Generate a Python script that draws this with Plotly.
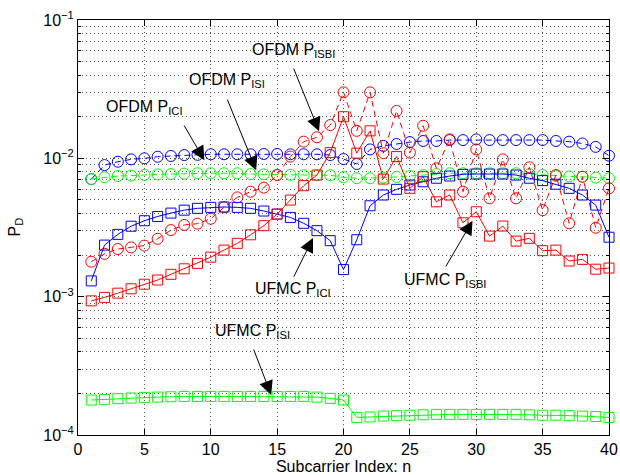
import math
import plotly.graph_objects as go

n = list(range(1, 41))

ofdm_ici = [7.08e-3, 8.94e-3, 9.45e-3, 9.83e-3, 1.00e-2, 1.027e-2, 1.04e-2, 1.056e-2, 1.06e-2, 1.07e-2,
            1.07e-2, 1.07e-2, 1.07e-2, 1.075e-2, 1.075e-2, 1.07e-2, 1.07e-2, 1.07e-2, 1.056e-2, 9.88e-3,
            9.1e-3, 1.16e-2, 1.23e-2, 1.27e-2, 1.31e-2, 1.335e-2, 1.335e-2, 1.355e-2, 1.355e-2, 1.37e-2,
            1.355e-2, 1.355e-2, 1.355e-2, 1.355e-2, 1.355e-2, 1.335e-2, 1.32e-2, 1.28e-2, 1.21e-2, 1.045e-2]
ofdm_isi = [7.08e-3, 7.3e-3, 7.45e-3, 7.5e-3, 7.6e-3, 7.65e-3, 7.7e-3, 7.75e-3, 7.8e-3, 7.8e-3,
            7.8e-3, 7.8e-3, 7.7e-3, 7.66e-3, 7.6e-3, 7.6e-3, 7.55e-3, 7.55e-3, 7.55e-3, 7.3e-3,
            7.18e-3, 7.18e-3, 7.25e-3, 7.35e-3, 7.45e-3, 7.57e-3, 7.7e-3, 7.8e-3, 7.8e-3, 7.8e-3,
            7.8e-3, 7.8e-3, 7.8e-3, 7.7e-3, 7.57e-3, 7.45e-3, 7.4e-3, 7.36e-3, 7.25e-3, 7.18e-3]
ofdm_isbi = [1.79e-3, 2.04e-3, 2.21e-3, 2.27e-3, 2.34e-3, 2.62e-3, 3.03e-3, 3.30e-3, 3.37e-3, 3.66e-3,
             4.42e-3, 5.22e-3, 5.74e-3, 6.14e-3, 7.57e-3, 1.03e-2, 1.32e-2, 1.42e-2, 1.74e-2, 3.0e-2,
             1.58e-2, 3.0e-2, 1.09e-2, 2.2e-2, 1.1e-2, 1.72e-2, 8.47e-3, 1.37e-2, 5.74e-3, 1.16e-2,
             5.14e-3, 9.83e-3, 5.14e-3, 8.61e-3, 4.22e-3, 7.57e-3, 3.39e-3, 7.36e-3, 3.15e-3, 6.07e-3]
ufmc_ici = [1.30e-3, 2.36e-3, 2.82e-3, 3.23e-3, 3.54e-3, 3.80e-3, 4.02e-3, 4.22e-3, 4.35e-3, 4.42e-3,
            4.45e-3, 4.42e-3, 4.35e-3, 4.16e-3, 3.95e-3, 3.74e-3, 3.39e-3, 3.0e-3, 2.54e-3, 1.57e-3,
            2.58e-3, 4.54e-3, 5.43e-3, 5.97e-3, 6.41e-3, 6.77e-3, 7.18e-3, 7.45e-3, 7.66e-3, 7.7e-3,
            7.7e-3, 7.7e-3, 7.57e-3, 7.18e-3, 6.9e-3, 6.5e-3, 6.07e-3, 5.43e-3, 4.59e-3, 2.69e-3]
ufmc_isi = [1.79e-4, 1.81e-4, 1.83e-4, 1.85e-4, 1.87e-4, 1.88e-4, 1.89e-4, 1.90e-4, 1.90e-4, 1.90e-4,
            1.90e-4, 1.90e-4, 1.90e-4, 1.90e-4, 1.90e-4, 1.90e-4, 1.90e-4, 1.88e-4, 1.84e-4, 1.79e-4,
            1.34e-4, 1.35e-4, 1.37e-4, 1.38e-4, 1.39e-4, 1.40e-4, 1.41e-4, 1.41e-4, 1.41e-4, 1.41e-4,
            1.41e-4, 1.41e-4, 1.41e-4, 1.40e-4, 1.39e-4, 1.39e-4, 1.38e-4, 1.37e-4, 1.36e-4, 1.34e-4]
ufmc_isbi = [9.33e-4, 9.88e-4, 1.06e-3, 1.14e-3, 1.23e-3, 1.32e-3, 1.45e-3, 1.59e-3, 1.74e-3, 1.93e-3,
             2.17e-3, 2.43e-3, 2.80e-3, 3.26e-3, 3.95e-3, 4.99e-3, 6.34e-3, 7.57e-3, 1.10e-2, 2.0e-2,
             1.09e-2, 1.58e-2, 7.08e-3, 1.03e-2, 6.07e-3, 7.36e-3, 4.85e-3, 5.43e-3, 3.42e-3, 4.11e-3,
             2.74e-3, 3.24e-3, 2.52e-3, 2.64e-3, 2.15e-3, 2.17e-3, 1.81e-3, 1.86e-3, 1.58e-3, 1.61e-3]

x_ticks = [0, 5, 10, 15, 20, 25, 30, 35, 40]
y_ticks = [1e-4, 1e-3, 1e-2, 1e-1]
y_tick_text = ["10<sup>\u22124</sup>", "10<sup>\u22123</sup>", "10<sup>\u22122</sup>", "10<sup>\u22121</sup>"]
y_minor = [m * d for d in [1e-4, 1e-3, 1e-2] for m in range(2, 10)]

# label text, label position (n, P), arrow tail (n, P), arrow tip (n, P)
labels = [
    ("OFDM P<sub>ICI</sub>", (1.93, 2.33e-2), (7.93, 1.77e-2), (9.52, 9.7e-3)),
    ("OFDM P<sub>ISI</sub>", (8.18, 3.64e-2), (11.21, 2.72e-2), (13.42, 8.2e-3)),
    ("OFDM P<sub>ISBI</sub>", (12.96, 6.04e-2), (16.2, 4.57e-2), (18.16, 1.57e-2)),
    ("UFMC P<sub>ICI</sub>", (13.21, 1.13e-3), (16.2, 1.36e-3), (17.7, 2.65e-3)),
    ("UFMC P<sub>ISBI</sub>", (24.4, 1.30e-3), (27.64, 1.61e-3), (29.72, 3.54e-3)),
    ("UFMC P<sub>ISI</sub>", (10.2, 5.57e-4), (13.19, 4.25e-4), (14.55, 1.95e-4)),
]

FONT = "Liberation Sans, Arial, Helvetica, sans-serif"
BLUE, GREEN, RED = "#0000ff", "#00ff00", "#ff0000"

fig = go.Figure()
series = [
    (ofdm_ici, BLUE, "circle-open", "dash", 11),
    (ofdm_isi, GREEN, "circle-open", "dash", 11),
    (ofdm_isbi, RED, "circle-open", "dash", 11),
    (ufmc_ici, BLUE, "square-open", "solid", 10),
    (ufmc_isi, GREEN, "square-open", "solid", 10),
    (ufmc_isbi, RED, "square-open", "solid", 10),
]
for ys, col, sym, dash, sz in series:
    fig.add_trace(go.Scatter(
        x=n, y=ys, mode="lines+markers",
        line=dict(color=col, width=1, dash=("6px,4px" if dash == "dash" else "solid")),
        marker=dict(symbol=sym, size=sz, color=col, line=dict(color=col, width=1)),
        showlegend=False, cliponaxis=False,
    ))

annotations = []
for text, (lx, ly), (tx, ty), (hx, hy) in labels:
    annotations.append(dict(
        x=lx, y=math.log10(ly), xref="x", yref="y", text=text, showarrow=False,
        xanchor="left", yanchor="middle", font=dict(family=FONT, size=16, color="black"),
    ))
    annotations.append(dict(
        x=hx, y=math.log10(hy), xref="x", yref="y", ax=tx, ay=math.log10(ty),
        axref="x", ayref="y", text="", showarrow=True, arrowhead=2, arrowsize=2.8,
        arrowwidth=1, arrowcolor="black", standoff=0, startstandoff=0,
    ))

# y-axis title placed as rotated text
annotations.append(dict(
    x=-63 / 531, y=0.5, xref="paper", yref="paper", text="P<sub>D</sub>", showarrow=False,
    xanchor="center", textangle=-90, font=dict(family=FONT, size=16, color="black"),
))

grid_dash = "1px,3px"
fig.update_layout(
    width=620, height=475,
    margin=dict(l=78, r=11, t=20, b=40),
    paper_bgcolor="white", plot_bgcolor="white",
    font=dict(family=FONT, size=16, color="black"),
    annotations=annotations,
    xaxis=dict(
        range=[0, 40], tickvals=x_ticks, ticks="inside", ticklen=6, tickcolor="black",
        showline=True, linecolor="black", linewidth=1, mirror="ticks",
        showgrid=True, gridcolor="#555555", griddash=grid_dash, gridwidth=1,
        zeroline=False, tickfont=dict(size=16), automargin=False,
        title=dict(text="Subcarrier Index: n", font=dict(size=16), standoff=2),
    ),
    yaxis=dict(
        type="log", range=[-4, -1], tickvals=y_ticks, ticktext=y_tick_text,
        ticks="inside", ticklen=6, tickcolor="black",
        showline=True, linecolor="black", linewidth=1, mirror="ticks",
        showgrid=True, gridcolor="#555555", griddash=grid_dash, gridwidth=1,
        zeroline=False, tickfont=dict(size=16), automargin=False,
        minor=dict(tickvals=y_minor, ticks="inside", ticklen=3, tickcolor="black", showgrid=True,
                   gridcolor="#555555", griddash=grid_dash, gridwidth=1),
    ),
)

fig.write_html("out.html", config={"displayModeBar": False},
               post_script="document.body.style.margin='0';")
